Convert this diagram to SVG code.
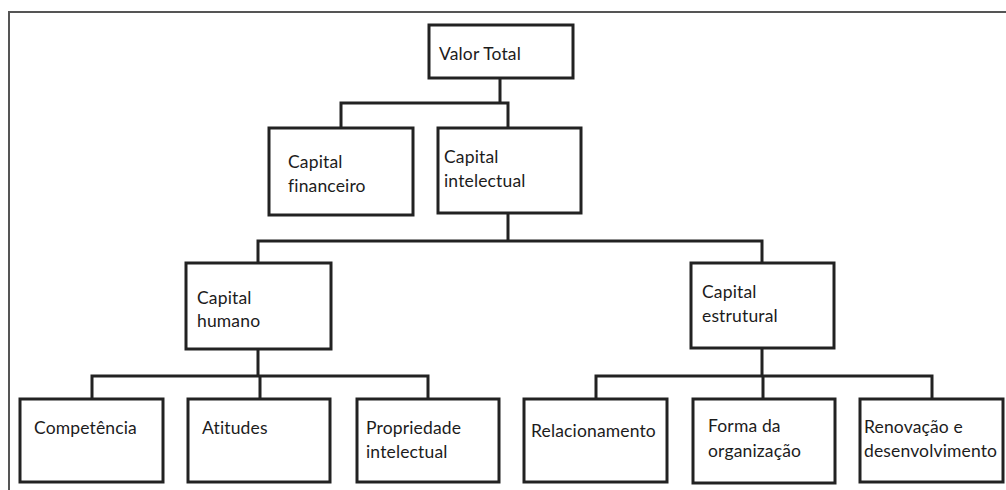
<svg xmlns="http://www.w3.org/2000/svg" width="1006" height="490" viewBox="0 0 1006 490">
  <style>
    .box { fill: #ffffff; stroke: #222222; stroke-width: 3; }
    .lbl { font-family: Lato, "Open Sans", sans-serif; font-size: 17.5px; letter-spacing: 0.15px; fill: #1c1c1c; }
    .wire { fill: none; stroke: #222222; stroke-width: 3; stroke-linejoin: miter; }
    .frame { fill: none; stroke: #555555; stroke-width: 2; }
  </style>

  <rect x="0" y="0" width="1006" height="490" fill="#ffffff"/>
  <!-- outer frame: top and left edges -->
  <path class="frame" d="M9,490 V12 H1006"/>

  <!-- connectors -->
  <g id="connectors">
    <path class="wire" d="M500,78 V103 M341,128 V103 H508 V128"/>
    <path class="wire" d="M508,213 V241 M258,263 V241 H762 V263"/>
    <path class="wire" d="M258,349 V376 M92,399 V376 H428 V399 M260,376 V399"/>
    <path class="wire" d="M762,348 V376 M596,399 V376 H932 V399 M763,376 V399"/>
  </g>

  <g id="valor-total">
    <rect class="box" x="429" y="25" width="144" height="53"/>
    <text class="lbl" x="439" y="60">Valor Total</text>
  </g>

  <g id="capital-financeiro">
    <rect class="box" x="269" y="128" width="144" height="87"/>
    <text class="lbl" x="288" y="168">Capital</text>
    <text class="lbl" x="288" y="192">financeiro</text>
  </g>

  <g id="capital-intelectual">
    <rect class="box" x="438" y="128" width="143" height="85"/>
    <text class="lbl" x="444" y="163">Capital</text>
    <text class="lbl" x="444" y="187">intelectual</text>
  </g>

  <g id="capital-humano">
    <rect class="box" x="186" y="263" width="145" height="86"/>
    <text class="lbl" x="197" y="304">Capital</text>
    <text class="lbl" x="197" y="327">humano</text>
  </g>

  <g id="capital-estrutural">
    <rect class="box" x="691" y="263" width="143" height="85"/>
    <text class="lbl" x="702" y="298">Capital</text>
    <text class="lbl" x="702" y="322">estrutural</text>
  </g>

  <g id="competencia">
    <rect class="box" x="20" y="399" width="143" height="83"/>
    <text class="lbl" x="34" y="434">Competência</text>
  </g>

  <g id="atitudes">
    <rect class="box" x="188" y="399" width="142" height="83"/>
    <text class="lbl" x="202" y="434">Atitudes</text>
  </g>

  <g id="propriedade-intelectual">
    <rect class="box" x="357" y="399" width="142" height="83"/>
    <text class="lbl" x="366" y="434">Propriedade</text>
    <text class="lbl" x="366" y="458">intelectual</text>
  </g>

  <g id="relacionamento">
    <rect class="box" x="524" y="399" width="143" height="83"/>
    <text class="lbl" x="531" y="437">Relacionamento</text>
  </g>

  <g id="forma-da-organizacao">
    <rect class="box" x="693" y="399" width="142" height="84"/>
    <text class="lbl" x="708" y="432">Forma da</text>
    <text class="lbl" x="708" y="457">organização</text>
  </g>

  <g id="renovacao-desenvolvimento">
    <rect class="box" x="860" y="399" width="143" height="83"/>
    <text class="lbl" x="864" y="433">Renovação e</text>
    <text class="lbl" x="864" y="457">desenvolvimento</text>
  </g>
</svg>
